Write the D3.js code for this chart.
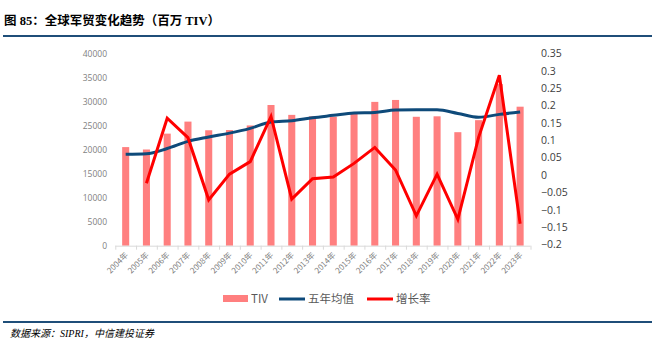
<!DOCTYPE html>
<html><head><meta charset="utf-8">
<script src="https://cdn.jsdelivr.net/npm/d3@7"></script>
<style>
body{margin:0;background:#fff;}
svg{display:block;}
</style></head>
<body>
<svg id="chart" width="655" height="359"></svg>
<script>
const years = ["2004年","2005年","2006年","2007年","2008年","2009年","2010年","2011年","2012年","2013年","2014年","2015年","2016年","2017年","2018年","2019年","2020年","2021年","2022年","2023年"];
const tiv = [20500,20000,23300,25800,24000,24050,25000,29250,27200,26900,26800,27400,29900,30300,26800,26900,23600,26100,33600,28900];
const avg5 = [19000,19100,20200,21700,22600,23400,24400,25700,26000,26600,27100,27600,27700,28200,28250,28250,27500,26700,27300,27800];
const growth = [null,-0.024,0.163,0.107,-0.072,0.002,0.038,0.168,-0.07,-0.011,-0.006,0.033,0.079,0.014,-0.118,0.002,-0.128,0.108,0.287,-0.141];
const leftTicks = [0,5000,10000,15000,20000,25000,30000,35000,40000];
const rightTicks = [-0.2,-0.15,-0.1,-0.05,0,0.05,0.1,0.15,0.2,0.25,0.3,0.35];
const legendLabels = ["TIV","五年均值","增长率"];

const svg = d3.select("#chart");
const plotTop = 53.3, plotBottom = 245.7, plotLeft = 115.3, plotRight = 530.5;
const cjk = "'Noto Sans CJK SC','Noto Sans',sans-serif";

// Title
svg.append("text").attr("x",4).attr("y",25).attr("font-family","'Liberation Serif','Noto Sans CJK SC',sans-serif")
  .attr("font-weight","bold").attr("font-size",12.5).attr("fill","#000").text("图 85：全球军贸变化趋势（百万 TIV）");
svg.append("rect").attr("x",3).attr("y",35).attr("width",649).attr("height",2).attr("fill","#1f4e79");

const x = d3.scaleBand().domain(years).range([plotLeft,plotRight]).paddingInner(0.66).paddingOuter(0.33);
const yL = d3.scaleLinear().domain([0,40000]).range([plotBottom,plotTop]);
const yR = d3.scaleLinear().domain([-0.2,0.35]).range([244.3,plotTop]);

// bars
svg.append("g").selectAll("rect").data(years).join("rect")
  .attr("x",d=>x(d)).attr("width",x.bandwidth())
  .attr("y",(d,i)=>yL(tiv[i])).attr("height",(d,i)=>plotBottom-yL(tiv[i]))
  .attr("fill","#FF7F7F");

// x axis line & ticks
const xb = d3.scaleBand().domain(years).range([plotLeft,plotRight]);
svg.append("line").attr("x1",plotLeft).attr("x2",plotRight).attr("y1",plotBottom+0.5).attr("y2",plotBottom+0.5).attr("stroke","#d9d9d9");
svg.append("g").selectAll("line").data(years.concat(["_end"])).join("line")
  .attr("x1",(d,i)=>plotLeft+i*xb.step()+0.5).attr("x2",(d,i)=>plotLeft+i*xb.step()+0.5)
  .attr("y1",plotBottom).attr("y2",plotBottom+4).attr("stroke","#d9d9d9");
svg.append("g").selectAll("text").data(years).join("text")
  .attr("transform",d=>`translate(${x(d)+x.bandwidth()/2+3},${plotBottom+10}) rotate(-45)`)
  .attr("text-anchor","end").attr("font-family",cjk).attr("font-size",8).attr("fill","#7f7f7f").text(d=>d);

// left axis labels
svg.append("g").selectAll("text").data(leftTicks).join("text")
  .attr("x",107).attr("y",d=>yL(d)+3.5).attr("text-anchor","end")
  .attr("font-family","'Open Sans','Liberation Sans',sans-serif").attr("font-size",8.5).attr("fill","#7f7f7f").text(d=>d);
// right axis labels
svg.append("g").selectAll("text").data(rightTicks).join("text")
  .attr("x",541).attr("y",d=>yR(d)+4).attr("text-anchor","start")
  .attr("font-family","'Open Sans','Liberation Sans',sans-serif").attr("font-size",10.5).attr("fill","#404040").text(d=>d3.format("")(+d.toFixed(2)));

const cx = d=>x(d)+x.bandwidth()/2;
// avg line
svg.append("path").datum(years).attr("fill","none").attr("stroke","#0e4a7a").attr("stroke-width",3).attr("stroke-linejoin","round")
  .attr("d",d3.line().x(d=>cx(d)).y((d,i)=>yL(avg5[i])).curve(d3.curveMonotoneX));
// growth line
const gData = years.map((d,i)=>({d,v:growth[i]})).filter(o=>o.v!==null);
svg.append("path").datum(gData).attr("fill","none").attr("stroke","#FF0000").attr("stroke-width",3).attr("stroke-linejoin","miter")
  .attr("d",d3.line().x(o=>cx(o.d)).y(o=>yR(o.v)));

// legend
const lg = svg.append("g").attr("font-family",cjk).attr("font-size",11.5).attr("fill","#595959");
lg.append("rect").attr("x",223).attr("y",295).attr("width",25).attr("height",7).attr("fill","#FF7F7F");
lg.append("text").attr("x",251).attr("y",303).text(legendLabels[0]);
lg.append("line").attr("x1",279).attr("x2",305).attr("y1",299).attr("y2",299).attr("stroke","#0e4a7a").attr("stroke-width",3);
lg.append("text").attr("x",308).attr("y",303).text(legendLabels[1]);
lg.append("line").attr("x1",367).attr("x2",393).attr("y1",299).attr("y2",299).attr("stroke","#FF0000").attr("stroke-width",3);
lg.append("text").attr("x",396).attr("y",303).text(legendLabels[2]);

// bottom rule and source
svg.append("rect").attr("x",3).attr("y",321).attr("width",649).attr("height",2).attr("fill","#1f4e79");
svg.append("text").attr("x",10).attr("y",337).attr("font-family","'Liberation Serif','Noto Sans CJK SC',serif").attr("font-style","italic")
  .attr("font-size",10).attr("fill","#000").text("数据来源：SIPRI，中信建投证券");
</script>
</body></html>
